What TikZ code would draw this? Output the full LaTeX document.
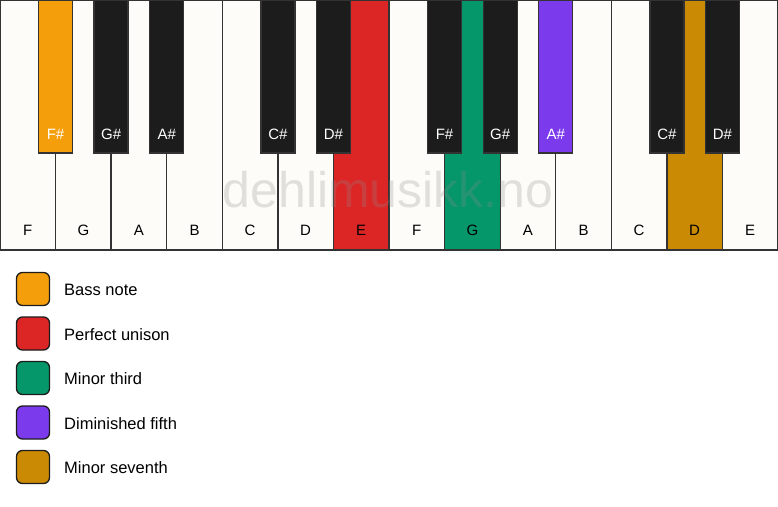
\documentclass[tikz,border=0pt]{standalone}
\usepackage{fontspec}
\setmainfont{Liberation Sans}
\definecolor{keyline}{HTML}{333333}
\definecolor{ivory}{HTML}{FDFCF8}
\definecolor{ebony}{HTML}{1C1C1C}
\definecolor{cbass}{HTML}{F59E0B}
\definecolor{cuni}{HTML}{DC2626}
\definecolor{cthird}{HTML}{059669}
\definecolor{cfifth}{HTML}{7C3AED}
\definecolor{cseventh}{HTML}{CA8A04}
\tikzset{
  wk/.style={draw=keyline, line width=1.3pt, fill=ivory, minimum width=55.57pt, minimum height=250pt, inner sep=0pt, outer sep=0pt},
  bk/.style={draw=keyline, line width=1.3pt, fill=ebony, minimum width=34pt, minimum height=153pt, inner sep=0pt, outer sep=0pt},
  wlab/.style={font=\fontsize{15}{15}\selectfont, text=black, anchor=base},
  blab/.style={font=\fontsize{15}{15}\selectfont, text=white, anchor=base},
  legbox/.style={draw=ebony, line width=1.3pt, rounded corners=6pt, minimum width=33pt, minimum height=33pt, inner sep=0pt},
  legtext/.style={font=\fontsize{16.5}{16.5}\selectfont, anchor=west, inner sep=0pt},
  wmark/.style={font=\fontsize{50}{50}\selectfont, text=black!45, opacity=0.25}
}
\begin{document}
\begin{tikzpicture}[x=1pt,y=-1pt]
\useasboundingbox (0,0) rectangle (778,506);
\fill[white] (0,0) rectangle (778,506);
% white keys
\foreach \i/\n/\c in {0/F/ivory,1/G/ivory,2/A/ivory,3/B/ivory,4/C/ivory,5/D/ivory,6/E/cuni,7/F/ivory,8/G/cthird,9/A/ivory,10/B/ivory,11/C/ivory,12/D/cseventh,13/E/ivory}{
  \node[wk, fill=\c] (w\i) at ({(\i+0.5)*55.5714},125) {};
  \node[wlab] (lw\i) at ([yshift=14.5pt]w\i.south) {\n};
}
% watermark
\node[wmark] (wm) at (388,190) {dehlimusikk.no};
% black keys
\foreach \j/\n/\c in {1/F\#/cbass,2/G\#/ebony,3/A\#/ebony,5/C\#/ebony,6/D\#/ebony,8/F\#/ebony,9/G\#/ebony,10/A\#/cfifth,12/C\#/ebony,13/D\#/ebony}{
  \node[bk, fill=\c] (b\j) at ({\j*55.5714},76.5) {};
  \node[blab] (lb\j) at ([yshift=14pt]b\j.south) {\n};
}
% legend
\foreach \k/\c/\t [count=\r from 0] in {1/cbass/Bass note,2/cuni/Perfect unison,3/cthird/Minor third,4/cfifth/Diminished fifth,5/cseventh/Minor seventh}{
  \node[legbox, fill=\c] (g\k) at (33,{289+\r*44.5}) {};
  \node[legtext] (t\k) at (64,{290+\r*44.5}) {\t};
}
\end{tikzpicture}
\end{document}
